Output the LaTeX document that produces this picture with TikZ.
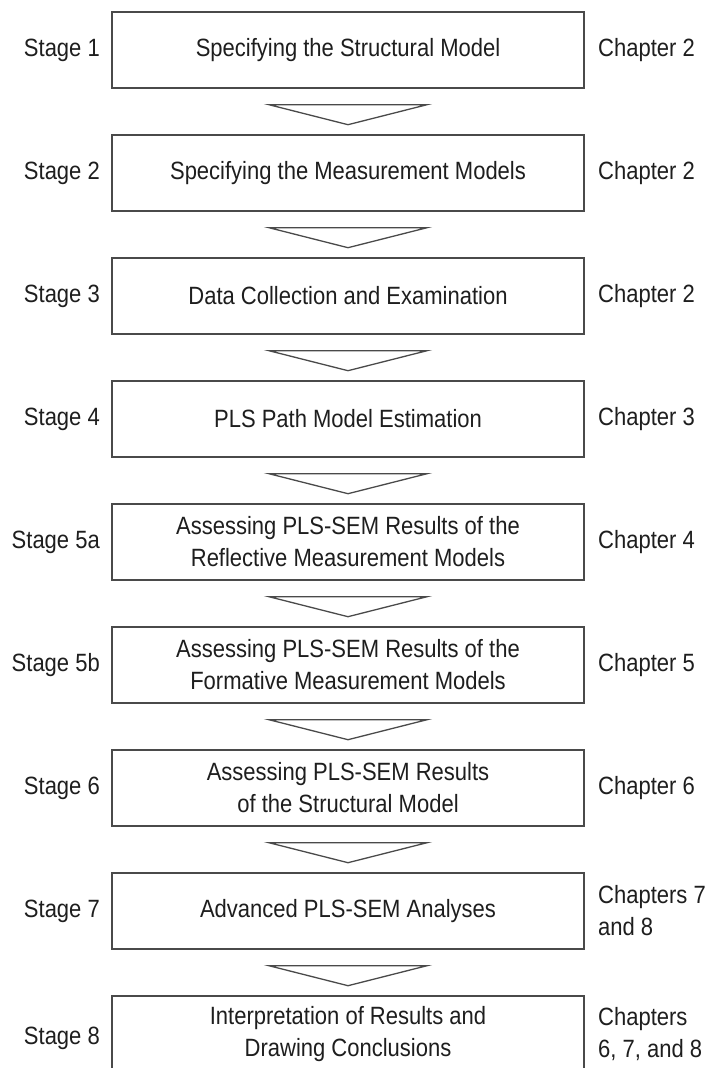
\documentclass[tikz,border=0pt]{standalone}
\usepackage{fontspec}
\setmainfont[FakeStretch=0.88]{Liberation Sans}
\definecolor{boxgray}{HTML}{4A4A4A}
\definecolor{txt}{HTML}{1E1E1E}
\tikzset{
  stagebox/.style={draw=boxgray, line width=1.4pt, minimum width=472pt,
    minimum height=76pt, inner sep=0pt, align=center, text=txt,
    font=\fontsize{25}{32}\selectfont},
  stagelabel/.style={anchor=east, inner sep=0pt, text=txt,
    font=\fontsize{25}{32}\selectfont},
  chaplabel/.style={anchor=west, inner sep=0pt, align=left, text=txt,
    font=\fontsize{25}{32}\selectfont},
  flowarrow/.style={draw=boxgray, line width=1.3pt, line join=miter}
}
\begin{document}
\begin{tikzpicture}[x=1pt,y=-1pt]
\useasboundingbox (0,0) rectangle (708,1068);
\clip (0,0) rectangle (708,1068);
\fill[white] (0,0) rectangle (708,1068);

\node[stagebox] (b1) at (348,50) {Specifying the Structural Model};
\node[stagebox] (b2) at (348,173) {Specifying the Measurement Models};
\node[stagebox] (b3) at (348,296) {Data Collection and Examination};
\node[stagebox] (b4) at (348,419) {PLS Path Model Estimation};
\node[stagebox] (b5) at (348,542) {Assessing PLS-SEM Results of the\\Reflective Measurement Models};
\node[stagebox] (b6) at (348,665) {Assessing PLS-SEM Results of the\\Formative Measurement Models};
\node[stagebox] (b7) at (348,788) {Assessing PLS-SEM Results\\of the Structural Model};
\node[stagebox] (b8) at (348,911) {Advanced PLS-SEM Analyses};
\node[stagebox] (b9) at (348,1034) {Interpretation of Results and\\Drawing Conclusions};

\node[stagelabel] (s1) at (100,50) {Stage 1};
\node[stagelabel] (s2) at (100,173) {Stage 2};
\node[stagelabel] (s3) at (100,296) {Stage 3};
\node[stagelabel] (s4) at (100,419) {Stage 4};
\node[stagelabel] (s5) at (100,542) {Stage 5a};
\node[stagelabel] (s6) at (100,665) {Stage 5b};
\node[stagelabel] (s7) at (100,788) {Stage 6};
\node[stagelabel] (s8) at (100,911) {Stage 7};
\node[stagelabel] (s9) at (100,1038) {Stage 8};

\node[chaplabel] (c1) at (598,50) {Chapter 2};
\node[chaplabel] (c2) at (598,173) {Chapter 2};
\node[chaplabel] (c3) at (598,296) {Chapter 2};
\node[chaplabel] (c4) at (598,419) {Chapter 3};
\node[chaplabel] (c5) at (598,542) {Chapter 4};
\node[chaplabel] (c6) at (598,665) {Chapter 5};
\node[chaplabel] (c7) at (598,788) {Chapter 6};
\node[chaplabel] (c8) at (598,911) {Chapters 7\\and 8};
\node[chaplabel] (c9) at (598,1034) {Chapters\\6, 7, and 8};

\foreach \a/\b in {b1/b2,b2/b3,b3/b4,b4/b5,b5/b6,b6/b7,b7/b8,b8/b9}{
  \path (\a.south) ++(-79,16) coordinate (\a-l) ++(158,0) coordinate (\a-r);
  \path (\a.south) ++(0,36) coordinate (\a-t);
  \draw[flowarrow] (\a-l) -- (\a-r) -- (\a-t) -- cycle;
}
\end{tikzpicture}
\end{document}
